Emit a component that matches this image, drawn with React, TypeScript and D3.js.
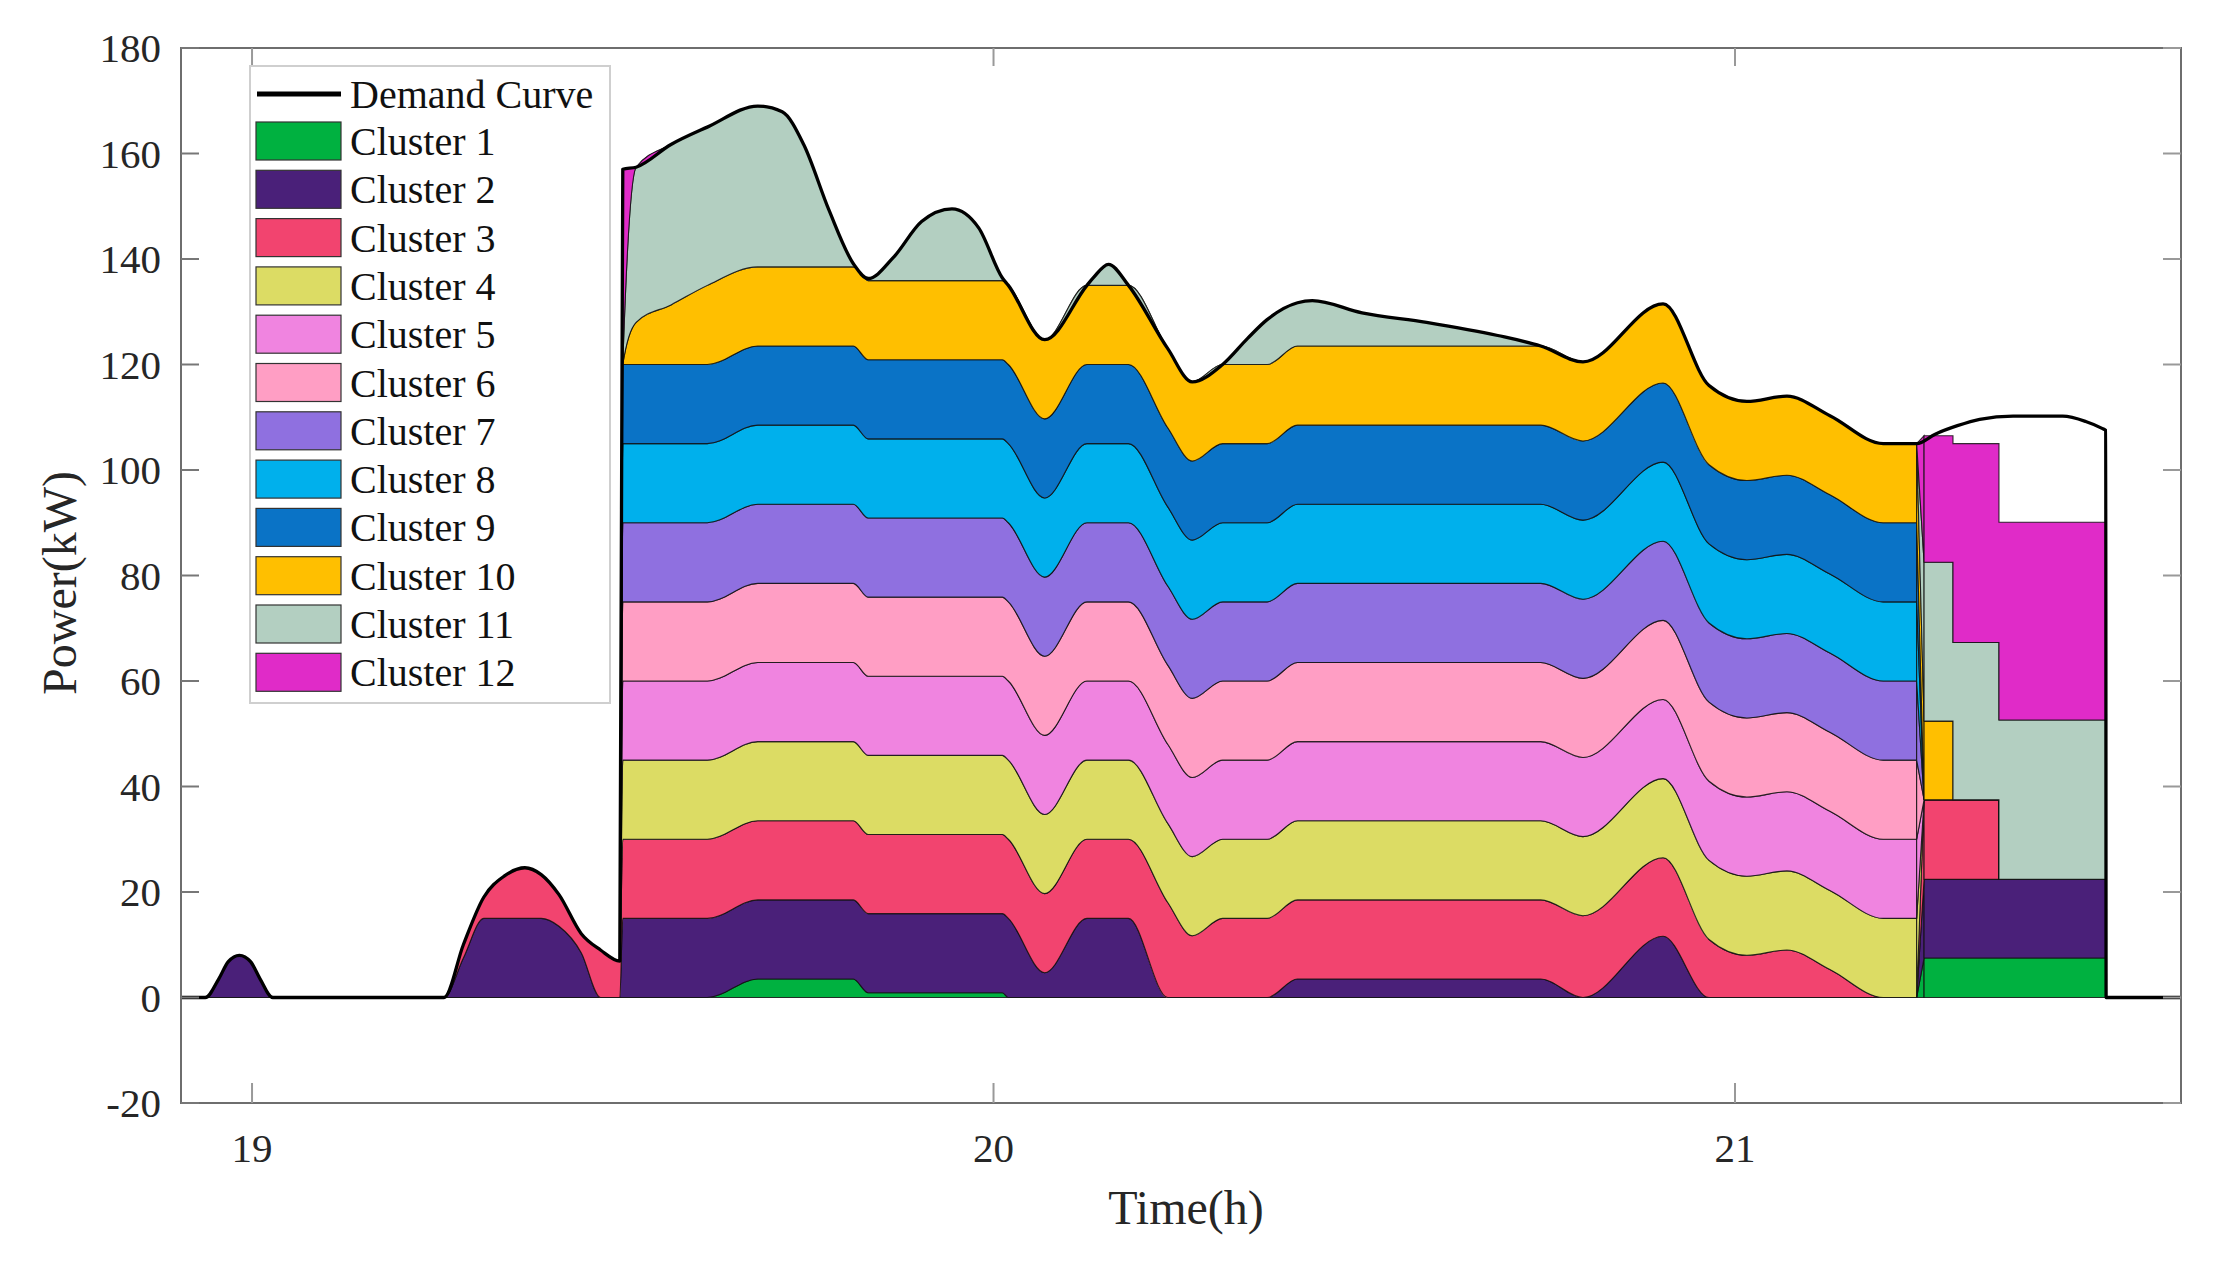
import * as d3 from 'd3';

// time axis (hours) shared by every cluster series
const hours = [
  18.905, 18.937, 18.955, 18.968, 18.983, 18.998, 19.011, 19.028, 19.259, 19.285,
  19.3125, 19.34, 19.368, 19.39, 19.414, 19.444, 19.47, 19.496, 19.5, 19.518,
  19.565, 19.614, 19.682, 19.715, 19.744, 19.778, 19.811, 19.831, 19.865, 19.903,
  19.944, 19.98, 20.012, 20.02, 20.069, 20.126, 20.135, 20.155, 20.182, 20.235,
  20.268, 20.309, 20.343, 20.369, 20.41, 20.43, 20.497, 20.584, 20.68, 20.738,
  20.795, 20.903, 20.965, 21.016, 21.07, 21.128, 21.2, 21.245, 21.255, 21.294,
  21.356, 21.5,
];

const cluster1 = [
  0, 0, 0, 0, 0, 0, 0, 0, 0, 0,
  0, 0, 0, 0, 0, 0, 0, 0, 0, 0,
  0, 0, 3.5, 3.5, 3.5, 3.5, 3.5, 0.9, 0.9, 0.9,
  0.9, 0.9, 0.9, 0, 0, 0, 0, 0, 0, 0,
  0, 0, 0, 0, 0, 0, 0, 0, 0, 0,
  0, 0, 0, 0, 0, 0, 0, 0, 7.5, 7.5,
  7.5, 0,
];
const cluster2 = [
  0, 0, 3.5, 6.8, 8.0, 6.8, 3.5, 0, 0, 7.5,
  15, 15, 15, 15, 13.5, 8.5, 0, 0, 15, 15,
  15, 15, 15, 15, 15, 15, 15, 15, 15, 15,
  15, 15, 15, 15, 4.7, 15, 15, 15, 15, 0,
  0, 0, 0, 0, 3.5, 3.5, 3.5, 3.5, 3.5, 3.5,
  0, 11.6, 0, 0, 0, 0, 0, 0, 14.9, 14.9,
  14.9, 0,
];
const cluster3 = [
  0, 0, 0, 0, 0, 0, 0, 0, 0, 2.5,
  4, 8, 9.6, 8.3, 6, 3.6, 9, 6.9, 15, 15,
  15, 15, 15, 15, 15, 15, 15, 15, 15, 15,
  15, 15, 15, 15, 15, 15, 15, 15, 15, 18,
  11.7, 15, 15, 15, 15, 15, 15, 15, 15, 15,
  15.5, 14.9, 11, 8.0, 9.0, 5.3, 0, 0, 15.1, 15.1,
  0, 0,
];
const cluster4 = [
  0, 0, 0, 0, 0, 0, 0, 0, 0, 0,
  0, 0, 0, 0, 0, 0, 0, 0, 15, 15,
  15, 15, 15, 15, 15, 15, 15, 15, 15, 15,
  15, 15, 15, 15, 15, 15, 15, 15, 15, 15,
  15, 15, 15, 15, 15, 15, 15, 15, 15, 15,
  15, 15, 15, 15, 15, 15, 15, 15, 0, 0,
  0, 0,
];
const cluster5 = [
  0, 0, 0, 0, 0, 0, 0, 0, 0, 0,
  0, 0, 0, 0, 0, 0, 0, 0, 15, 15,
  15, 15, 15, 15, 15, 15, 15, 15, 15, 15,
  15, 15, 15, 15, 15, 15, 15, 15, 15, 15,
  15, 15, 15, 15, 15, 15, 15, 15, 15, 15,
  15, 15, 15, 15, 15, 15, 15, 15, 0, 0,
  0, 0,
];
const cluster6 = [
  0, 0, 0, 0, 0, 0, 0, 0, 0, 0,
  0, 0, 0, 0, 0, 0, 0, 0, 15, 15,
  15, 15, 15, 15, 15, 15, 15, 15, 15, 15,
  15, 15, 15, 15, 15, 15, 15, 15, 15, 15,
  15, 15, 15, 15, 15, 15, 15, 15, 15, 15,
  15, 15, 15, 15, 15, 15, 15, 15, 0, 0,
  0, 0,
];
const cluster7 = [
  0, 0, 0, 0, 0, 0, 0, 0, 0, 0,
  0, 0, 0, 0, 0, 0, 0, 0, 15, 15,
  15, 15, 15, 15, 15, 15, 15, 15, 15, 15,
  15, 15, 15, 15, 15, 15, 15, 15, 15, 15,
  15, 15, 15, 15, 15, 15, 15, 15, 15, 15,
  15, 15, 15, 15, 15, 15, 15, 15, 0, 0,
  0, 0,
];
const cluster8 = [
  0, 0, 0, 0, 0, 0, 0, 0, 0, 0,
  0, 0, 0, 0, 0, 0, 0, 0, 15, 15,
  15, 15, 15, 15, 15, 15, 15, 15, 15, 15,
  15, 15, 15, 15, 15, 15, 15, 15, 15, 15,
  15, 15, 15, 15, 15, 15, 15, 15, 15, 15,
  15, 15, 15, 15, 15, 15, 15, 15, 0, 0,
  0, 0,
];
const cluster9 = [
  0, 0, 0, 0, 0, 0, 0, 0, 0, 0,
  0, 0, 0, 0, 0, 0, 0, 0, 15, 15,
  15, 15, 15, 15, 15, 15, 15, 15, 15, 15,
  15, 15, 15, 15, 15, 15, 15, 15, 15, 15,
  15, 15, 15, 15, 15, 15, 15, 15, 15, 15,
  15, 15, 15, 15, 15, 15, 15, 15, 0, 0,
  0, 0,
];
const cluster10 = [
  0, 0, 0, 0, 0, 0, 0, 0, 0, 0,
  0, 0, 0, 0, 0, 0, 0, 0, 0, 8,
  11.3, 15, 15, 15, 15, 15, 15, 15, 15, 15,
  15, 15, 15, 15, 15, 15, 15, 15, 15, 15,
  15, 15, 15, 15, 15, 15, 15, 15, 15, 15,
  15, 15, 15, 15, 15, 15, 15, 15, 14.9, 0,
  0, 0,
];
const cluster11 = [
  0, 0, 0, 0, 0, 0, 0, 0, 0, 0,
  0, 0, 0, 0, 0, 0, 0, 0, 0, 29.4,
  30.4, 30, 30.5, 29.4, 23.2, 10.8, 0.6, 0.4, 4.4, 11.2,
  13.6, 10, 0.5, 0, 0, 0, 1.5, 4, 0, 0,
  0, 0, 5, 8.5, 8.2, 8.6, 6.3, 4.5, 2.0, 0,
  0, 0, 0, 0, 0, 0, 0, 0, 30.1, 29.8,
  30.2, 0,
];
const cluster12 = [
  0, 0, 0, 0, 0, 0, 0, 0, 0, 0,
  0, 0, 0, 0, 0, 0, 0, 0, 37, 0,
  0, 0, 0, 0, 0, 0, 0, 0, 0, 0,
  0, 0, 0, 0, 0, 0, 0, 0, 0, 0,
  0, 0, 0, 0, 0, 0, 0, 0, 0, 0,
  0, 0, 0, 0, 0, 0, 0, 0, 24.0, 37.7,
  37.5, 0,
];

// demand curve after the smooth part (where it no longer equals the stack top)
const demandTailHours = [21.27, 21.3, 21.33, 21.375, 21.442, 21.473, 21.495, 21.5, 21.5005, 21.6015];
const demandTailValues = [106.8, 108.4, 109.6, 110.2, 110.2, 109.2, 107.9, 107.5, 0, 0];

const clusterLabels = [
  'Cluster 1', 'Cluster 2', 'Cluster 3', 'Cluster 4', 'Cluster 5', 'Cluster 6',
  'Cluster 7', 'Cluster 8', 'Cluster 9', 'Cluster 10', 'Cluster 11', 'Cluster 12',
];
const clusterColors = [
  '#00b140', '#4a2079', '#f2446f', '#dcdc64', '#f084e0', '#ff9ec4',
  '#8f70e0', '#00b0ec', '#0a73c6', '#ffbf00', '#b3cfc1', '#e02bc8',
];
const yTicks = [-20, 0, 20, 40, 60, 80, 100, 120, 140, 160, 180];
const xTicks = [19, 20, 21];

const FONT = '"Liberation Serif", "Times New Roman", serif';
const L = 181, R = 2181, T = 48, B = 1103;
const SMOOTH_END = 57; // index of 21.245
const TAIL_START = 58; // index of 21.255

export default function App() {
  const x = d3.scaleLinear().domain([18.9042, 21.6015]).range([L, R]);
  const y = d3.scaleLinear().domain([-20, 180]).range([B, T]);

  const values = [cluster1, cluster2, cluster3, cluster4, cluster5, cluster6,
    cluster7, cluster8, cluster9, cluster10, cluster11, cluster12];
  const rows = hours.map((t, i) => {
    const r: Record<string, number> = { t };
    clusterLabels.forEach((k, j) => { r[k] = values[j][i]; });
    return r;
  });
  const stacked = d3.stack<Record<string, number>>().keys(clusterLabels)(rows);

  const makeArea = (curve: d3.CurveFactory) =>
    d3.area<d3.SeriesPoint<Record<string, number>>>()
      .x((d) => x(d.data.t))
      .y0((d) => y(d[0]))
      .y1((d) => y(d[1]))
      .curve(curve);
  const smooth = makeArea(d3.curveMonotoneX);
  const bridge = makeArea(d3.curveLinear);
  const steps = makeArea(d3.curveStepAfter);

  const top = stacked[stacked.length - 1];
  const demandPts: [number, number][] = top
    .slice(0, SMOOTH_END + 1)
    .map((d) => [d.data.t, d[1]] as [number, number])
    .concat(demandTailHours.map((t, i) => [t, demandTailValues[i]] as [number, number]));
  const demandLine = d3.line<[number, number]>()
    .x((d) => x(d[0]))
    .y((d) => y(d[1]))
    .curve(d3.curveMonotoneX);

  const legendX = 250, legendY = 66, rowH = 48.3;

  return (
    <svg width={2222} height={1262} style={{ position: 'absolute', left: 0, top: 0, background: '#fff' }}
      fontFamily={FONT}>
      <defs>
        <clipPath id="plot">
          <rect x={L} y={T} width={R - L} height={B - T} />
        </clipPath>
      </defs>
      <rect x={0} y={0} width={2222} height={1262} fill="#fff" />

      <g clipPath="url(#plot)">
        {stacked.map((s, i) => (
          <g key={s.key}>
            <path d={smooth(s.slice(0, SMOOTH_END + 1)) || ''} fill={clusterColors[i]}
              stroke="#111" strokeWidth={1.1} strokeOpacity={0.85} />
            <path d={bridge(s.slice(SMOOTH_END, TAIL_START + 1)) || ''} fill={clusterColors[i]}
              stroke="#111" strokeWidth={1.1} strokeOpacity={0.85} />
            <path d={steps(s.slice(TAIL_START)) || ''} fill={clusterColors[i]}
              stroke="#111" strokeWidth={1.1} strokeOpacity={0.85} />
          </g>
        ))}
        <path d={demandLine(demandPts) || ''} fill="none" stroke="#000" strokeWidth={3.3}
          strokeLinejoin="round" />
      </g>

      {/* axes box */}
      <rect x={L} y={T} width={R - L} height={B - T} fill="none" stroke="#6e6e6e" strokeWidth={2} />
      {yTicks.map((v) => (
        <g key={`y${v}`}>
          <line x1={L} x2={L + 18} y1={y(v)} y2={y(v)} stroke="#777" strokeWidth={2} />
          <line x1={R} x2={R - 18} y1={y(v)} y2={y(v)} stroke="#999" strokeWidth={2} />
          <text x={161} y={y(v)} dy="0.35em" textAnchor="end" fontSize={41} fill="#262626">{v}</text>
        </g>
      ))}
      {xTicks.map((v) => (
        <g key={`x${v}`}>
          <line x1={x(v)} x2={x(v)} y1={B} y2={B - 20} stroke="#999" strokeWidth={2} />
          <line x1={x(v)} x2={x(v)} y1={T} y2={T + 18} stroke="#999" strokeWidth={2} />
          <text x={x(v)} y={1148} dy="0.35em" textAnchor="middle" fontSize={41} fill="#262626">{v}</text>
        </g>
      ))}
      <text x={1186} y={1207} dy="0.35em" textAnchor="middle" fontSize={48} fill="#262626">Time(h)</text>
      <text transform="translate(59,583) rotate(-90)" dy="0.35em" textAnchor="middle" fontSize={48}
        fill="#262626">Power(kW)</text>

      {/* legend */}
      <rect x={legendX} y={legendY} width={360} height={637} fill="#fff" stroke="#cfcfcf" strokeWidth={2} />
      <line x1={257} x2={341} y1={94} y2={94} stroke="#000" strokeWidth={5} />
      <text x={350} y={94} dy="0.35em" fontSize={40} fill="#111">Demand Curve</text>
      {clusterLabels.map((name, i) => {
        const cy = 141 + i * rowH;
        return (
          <g key={name}>
            <rect x={256} y={cy - 19} width={85} height={38} fill={clusterColors[i]} stroke="#333"
              strokeWidth={1.2} />
            <text x={350} y={cy} dy="0.35em" fontSize={40} fill="#111">{name}</text>
          </g>
        );
      })}
    </svg>
  );
}
